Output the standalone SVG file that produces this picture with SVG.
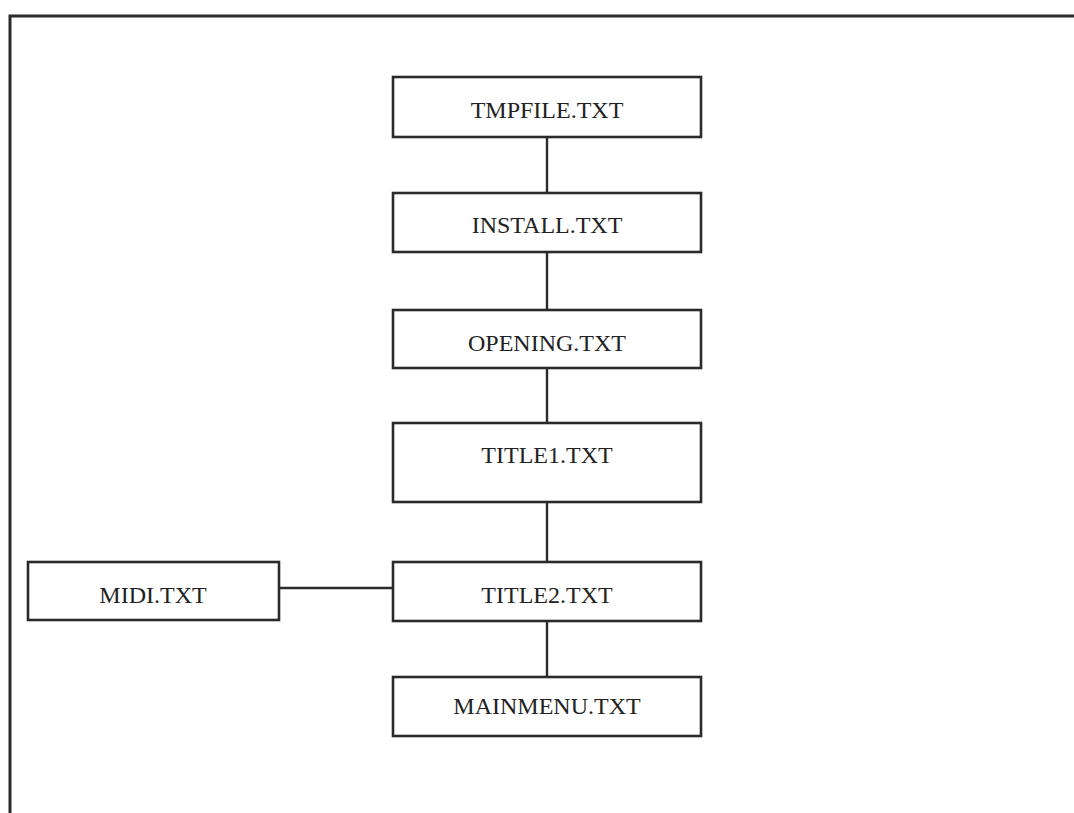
<svg xmlns="http://www.w3.org/2000/svg" width="1074" height="813" viewBox="0 0 1074 813">
  <style>
    .box { fill: #ffffff; stroke: #2a2a2a; stroke-width: 2.6; }
    .wire { stroke: #2a2a2a; stroke-width: 2.4; fill: none; }
    .frame { stroke: #2a2a2a; stroke-width: 3; fill: none; }
    .label { font-family: "Liberation Serif", "Times New Roman", serif; font-size: 24px; fill: #222222; text-anchor: middle; }
  </style>
  <rect width="1074" height="813" fill="#ffffff"/>
  <!-- page frame -->
  <path class="frame" d="M10,813 V16 H1074"/>
  <!-- connectors -->
  <g id="connectors">
    <line class="wire" x1="547" y1="137" x2="547" y2="193"/>
    <line class="wire" x1="547" y1="252" x2="547" y2="310"/>
    <line class="wire" x1="547" y1="368" x2="547" y2="423"/>
    <line class="wire" x1="547" y1="502" x2="547" y2="562"/>
    <line class="wire" x1="547" y1="621" x2="547" y2="677"/>
    <line class="wire" x1="279" y1="588" x2="393" y2="588"/>
  </g>
  <g id="tmpfile">
    <rect class="box" x="393" y="77" width="308" height="60"/>
    <text class="label" x="547" y="118">TMPFILE.TXT</text>
  </g>
  <g id="install">
    <rect class="box" x="393" y="193" width="308" height="59"/>
    <text class="label" x="547" y="233">INSTALL.TXT</text>
  </g>
  <g id="opening">
    <rect class="box" x="393" y="310" width="308" height="58"/>
    <text class="label" x="547" y="351">OPENING.TXT</text>
  </g>
  <g id="title1">
    <rect class="box" x="393" y="423" width="308" height="79"/>
    <text class="label" x="547" y="463">TITLE1.TXT</text>
  </g>
  <g id="title2">
    <rect class="box" x="393" y="562" width="308" height="59"/>
    <text class="label" x="547" y="603">TITLE2.TXT</text>
  </g>
  <g id="midi">
    <rect class="box" x="28" y="562" width="251" height="58"/>
    <text class="label" x="153" y="603">MIDI.TXT</text>
  </g>
  <g id="mainmenu">
    <rect class="box" x="393" y="677" width="308" height="59"/>
    <text class="label" x="547" y="714">MAINMENU.TXT</text>
  </g>
</svg>
